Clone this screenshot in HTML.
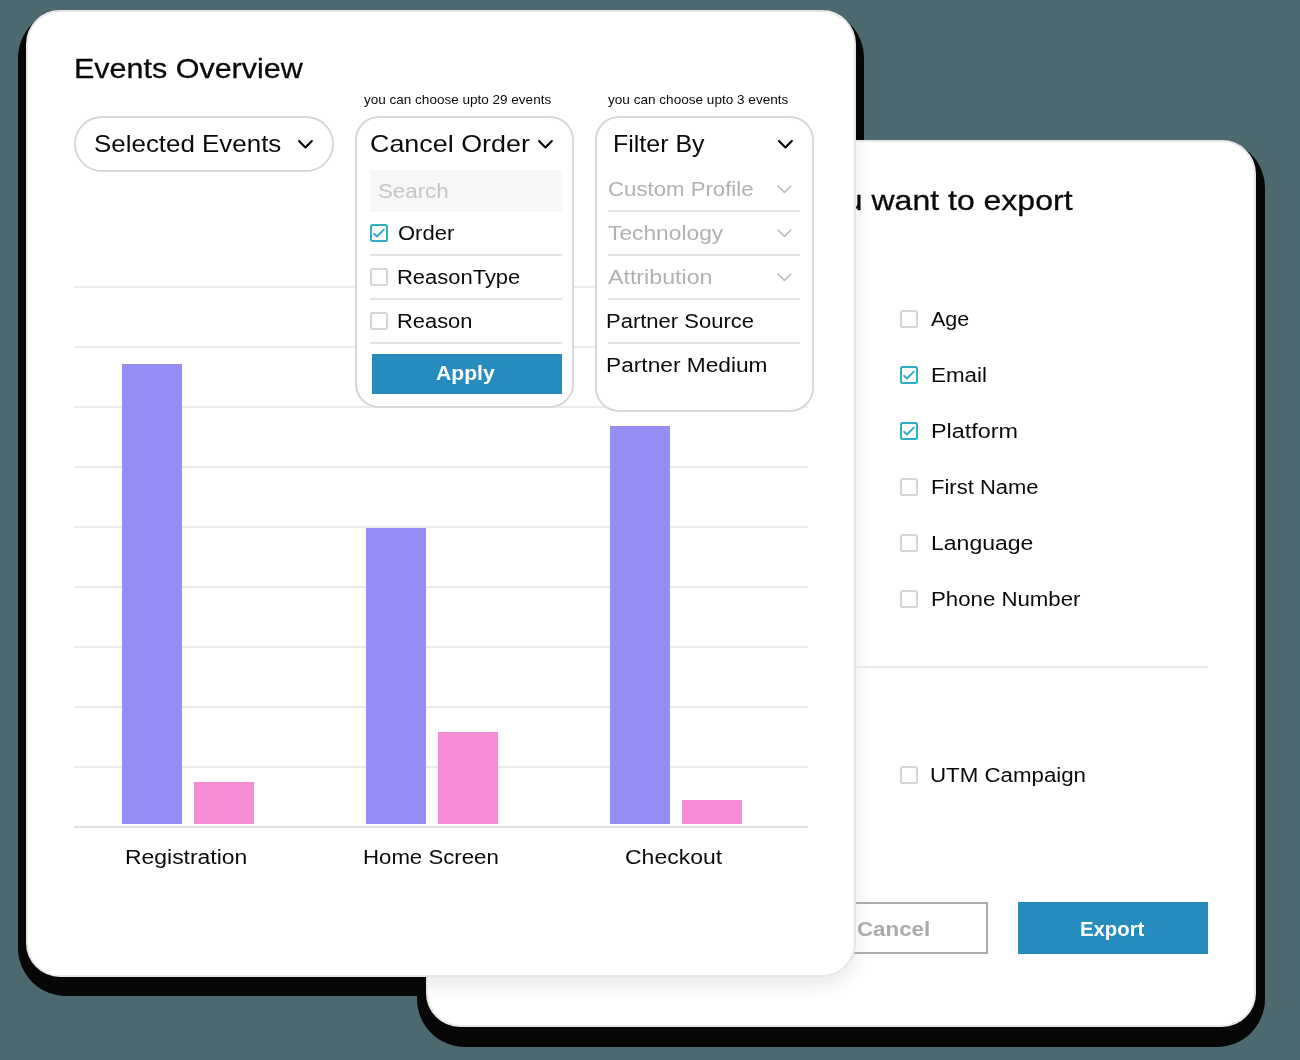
<!DOCTYPE html>
<html><head><meta charset="utf-8">
<style>
*{margin:0;padding:0;box-sizing:border-box}
html,body{width:1300px;height:1060px;overflow:hidden;background:#4c6970;font-family:"Liberation Sans",sans-serif;color:#0a0a0a}
.a{position:absolute}
.t{position:absolute;white-space:nowrap;line-height:1;transform-origin:0 0;will-change:transform}
.sh{position:absolute;background:#070707}
.card{position:absolute;background:#fff;border:2px solid #e6e6e6;border-radius:34px;overflow:hidden}
.gl{position:absolute;left:74px;width:734px;height:2px;background:#ececec}
.bar{position:absolute;width:60px}
.p{background:#978ef5}
.k{background:#f68bd6}
.dv{position:absolute;height:2px;background:#e3e3e3}
.g{color:#afb1b2}
</style></head><body>
<div class="sh" style="left:417px;top:140px;width:848px;height:907px;border-radius:48px"></div>
<div class="sh" style="left:17.5px;top:10px;width:846.5px;height:986px;border-radius:48px"></div>

<div class="card" style="left:426px;top:140px;width:830px;height:887px;z-index:2">
  <div class="a" style="left:-402px;top:-132px;width:830px;height:967px;border-radius:34px;box-shadow:0 8px 18px rgba(0,0,0,0.09)"></div>
</div>
<div style="position:absolute;left:0;top:0;z-index:3">
  <div class="t" style="left:811.0px;top:187px;font-size:28px;transform:scaleX(1.143);-webkit-text-stroke:0.3px #0a0a0a">you want to export</div>
  <svg class="a" style="left:900px;top:310px" width="18" height="18"><rect x="1" y="1" width="16" height="16" rx="1.5" fill="#fff" stroke="#d5d7d7" stroke-width="2"/></svg><div class="t" style="left:930.8px;top:309px;font-size:20px;transform:scaleX(1.074)">Age</div>
  <svg class="a" style="left:900px;top:366px" width="18" height="18"><rect x="1" y="1" width="16" height="16" rx="1.5" fill="#fff" stroke="#2caec4" stroke-width="2"/><polyline points="4.1,9.7 7,12.5 13.8,5.7" fill="none" stroke="#2caec4" stroke-width="1.9" stroke-linecap="round" stroke-linejoin="round"/></svg><div class="t" style="left:931.2px;top:365px;font-size:20px;transform:scaleX(1.119)">Email</div>
  <svg class="a" style="left:900px;top:422px" width="18" height="18"><rect x="1" y="1" width="16" height="16" rx="1.5" fill="#fff" stroke="#2caec4" stroke-width="2"/><polyline points="4.1,9.7 7,12.5 13.8,5.7" fill="none" stroke="#2caec4" stroke-width="1.9" stroke-linecap="round" stroke-linejoin="round"/></svg><div class="t" style="left:931.2px;top:421px;font-size:20px;transform:scaleX(1.169)">Platform</div>
  <svg class="a" style="left:900px;top:478px" width="18" height="18"><rect x="1" y="1" width="16" height="16" rx="1.5" fill="#fff" stroke="#d5d7d7" stroke-width="2"/></svg><div class="t" style="left:931.2px;top:477px;font-size:20px;transform:scaleX(1.1)">First Name</div>
  <svg class="a" style="left:900px;top:534px" width="18" height="18"><rect x="1" y="1" width="16" height="16" rx="1.5" fill="#fff" stroke="#d5d7d7" stroke-width="2"/></svg><div class="t" style="left:931.2px;top:533px;font-size:20px;transform:scaleX(1.151)">Language</div>
  <svg class="a" style="left:900px;top:590px" width="18" height="18"><rect x="1" y="1" width="16" height="16" rx="1.5" fill="#fff" stroke="#d5d7d7" stroke-width="2"/></svg><div class="t" style="left:931.2px;top:589px;font-size:20px;transform:scaleX(1.111)">Phone Number</div>
  <div class="dv" style="left:800px;top:666px;width:408px;background:#e8e8e8"></div>
  <svg class="a" style="left:900px;top:766px" width="18" height="18"><rect x="1" y="1" width="16" height="16" rx="1.5" fill="#fff" stroke="#d5d7d7" stroke-width="2"/></svg><div class="t" style="left:930.2px;top:765px;font-size:20px;transform:scaleX(1.114)">UTM Campaign</div>
  <div class="a" style="left:798px;top:902px;width:190px;height:52px;border:2px solid #ababab"></div>
  <div class="t" style="left:857.0px;top:919px;font-size:20px;transform:scaleX(1.116);font-weight:bold;color:#ababab">Cancel</div>
  <div class="a" style="left:1018px;top:902px;width:190px;height:52px;background:#268cbe"></div>
  <div class="t" style="left:1079.8px;top:919px;font-size:20px;transform:scaleX(1.016);font-weight:bold;color:#fff">Export</div>
</div>

<div class="card" style="left:26px;top:10px;width:830px;height:967px;z-index:4"></div>
<div style="position:absolute;left:0;top:0;z-index:5">
  <div class="t" style="left:73.6px;top:55px;font-size:28px;transform:scaleX(1.089);-webkit-text-stroke:0.3px #0a0a0a">Events Overview</div>
  <div class="gl" style="top:286px"></div>
  <div class="gl" style="top:346px"></div>
  <div class="gl" style="top:406px"></div>
  <div class="gl" style="top:466px"></div>
  <div class="gl" style="top:526px"></div>
  <div class="gl" style="top:586px"></div>
  <div class="gl" style="top:646px"></div>
  <div class="gl" style="top:706px"></div>
  <div class="gl" style="top:766px"></div>
  <div class="gl" style="top:826px;background:#e0e0e0"></div>
  <div class="bar p" style="left:122px;top:364px;height:460px"></div>
  <div class="bar k" style="left:194px;top:782px;height:42px"></div>
  <div class="bar p" style="left:366px;top:528px;height:296px"></div>
  <div class="bar k" style="left:438px;top:732px;height:92px"></div>
  <div class="bar p" style="left:610px;top:426px;height:398px"></div>
  <div class="bar k" style="left:682px;top:800px;height:24px"></div>
  <div class="t" style="left:125.0px;top:847px;font-size:20px;transform:scaleX(1.146)">Registration</div><div class="t" style="left:363.2px;top:847px;font-size:20px;transform:scaleX(1.11)">Home Screen</div><div class="t" style="left:625.2px;top:847px;font-size:20px;transform:scaleX(1.149)">Checkout</div>

  <div class="a" style="left:74px;top:116px;width:260px;height:56px;border:2px solid #d6d9d8;border-radius:28px;background:#fff"></div>
  <div class="t" style="left:94.2px;top:132px;font-size:24px;transform:scaleX(1.08)">Selected Events</div>
  <svg class="a" style="left:295.6px;top:137.5px" width="20" height="13"><polyline points="3,3 9.4,9.4 15.8,3" fill="none" stroke="#000" stroke-width="2.1" stroke-linecap="round" stroke-linejoin="round"/></svg>

  <div class="t" style="left:364.0px;top:93px;font-size:13px;transform:scaleX(1.04)">you can choose upto 29 events</div>
  <div class="a" style="left:355px;top:116px;width:219px;height:292px;border:2px solid #d6d9d8;border-radius:24px;background:#fff"></div>
  <div class="t" style="left:370.0px;top:132px;font-size:24px;transform:scaleX(1.12)">Cancel Order</div>
  <svg class="a" style="left:535.6px;top:137.5px" width="20" height="13"><polyline points="3,3 9.4,9.4 15.8,3" fill="none" stroke="#000" stroke-width="2.1" stroke-linecap="round" stroke-linejoin="round"/></svg>
  <div class="a" style="left:370px;top:170px;width:192px;height:42px;background:#f7f7f7"></div>
  <div class="t" style="left:378.0px;top:181px;font-size:20px;transform:scaleX(1.115);color:#c6c6c6">Search</div>
  <svg class="a" style="left:370px;top:224px" width="18" height="18"><rect x="1" y="1" width="16" height="16" rx="1.5" fill="#fff" stroke="#2caec4" stroke-width="2"/><polyline points="4.1,9.7 7,12.5 13.8,5.7" fill="none" stroke="#2caec4" stroke-width="1.9" stroke-linecap="round" stroke-linejoin="round"/></svg><div class="t" style="left:397.8px;top:223px;font-size:20px;transform:scaleX(1.1)">Order</div>
  <div class="dv" style="left:370px;top:254px;width:192px"></div>
  <svg class="a" style="left:370px;top:268px" width="18" height="18"><rect x="1" y="1" width="16" height="16" rx="1.5" fill="#fff" stroke="#d5d7d7" stroke-width="2"/></svg><div class="t" style="left:396.8px;top:267px;font-size:20px;transform:scaleX(1.098)">ReasonType</div>
  <div class="dv" style="left:370px;top:298px;width:192px"></div>
  <svg class="a" style="left:370px;top:312px" width="18" height="18"><rect x="1" y="1" width="16" height="16" rx="1.5" fill="#fff" stroke="#d5d7d7" stroke-width="2"/></svg><div class="t" style="left:396.8px;top:311px;font-size:20px;transform:scaleX(1.095)">Reason</div>
  <div class="dv" style="left:370px;top:342px;width:192px"></div>
  <div class="a" style="left:372px;top:354px;width:190px;height:40px;background:#268cbe"></div>
  <div class="t" style="left:436.0px;top:363px;font-size:20px;transform:scaleX(1.057);font-weight:bold;color:#fff">Apply</div>

  <div class="t" style="left:608.0px;top:93px;font-size:13px;transform:scaleX(1.044)">you can choose upto 3 events</div>
  <div class="a" style="left:595px;top:116px;width:219px;height:296px;border:2px solid #d6d9d8;border-radius:24px;background:#fff"></div>
  <div class="t" style="left:613.0px;top:132px;font-size:24px;transform:scaleX(1.04)">Filter By</div>
  <svg class="a" style="left:775.6px;top:137.5px" width="20" height="13"><polyline points="3,3 9.4,9.4 15.8,3" fill="none" stroke="#000" stroke-width="2.1" stroke-linecap="round" stroke-linejoin="round"/></svg>
  <div class="t" style="left:608.0px;top:179px;font-size:20px;transform:scaleX(1.11);color:#afb1b2">Custom Profile</div>
  <svg class="a" style="left:775.3px;top:183.3px" width="20" height="13"><polyline points="3,3 9.4,9.4 15.8,3" fill="none" stroke="#b9bcbe" stroke-width="1.6" stroke-linecap="round" stroke-linejoin="round"/></svg>
  <div class="dv" style="left:608px;top:210px;width:192px"></div>
  <div class="t" style="left:608.4px;top:223px;font-size:20px;transform:scaleX(1.139);color:#afb1b2">Technology</div>
  <svg class="a" style="left:775.3px;top:227.3px" width="20" height="13"><polyline points="3,3 9.4,9.4 15.8,3" fill="none" stroke="#b9bcbe" stroke-width="1.6" stroke-linecap="round" stroke-linejoin="round"/></svg>
  <div class="dv" style="left:608px;top:254px;width:192px"></div>
  <div class="t" style="left:608.4px;top:267px;font-size:20px;transform:scaleX(1.16);color:#afb1b2">Attribution</div>
  <svg class="a" style="left:775.3px;top:271.3px" width="20" height="13"><polyline points="3,3 9.4,9.4 15.8,3" fill="none" stroke="#b9bcbe" stroke-width="1.6" stroke-linecap="round" stroke-linejoin="round"/></svg>
  <div class="dv" style="left:608px;top:298px;width:192px"></div>
  <div class="t" style="left:606.4px;top:311px;font-size:20px;transform:scaleX(1.1)">Partner Source</div>
  <div class="dv" style="left:608px;top:342px;width:192px"></div>
  <div class="t" style="left:606.4px;top:355px;font-size:20px;transform:scaleX(1.135)">Partner Medium</div>
</div>
</body></html>
